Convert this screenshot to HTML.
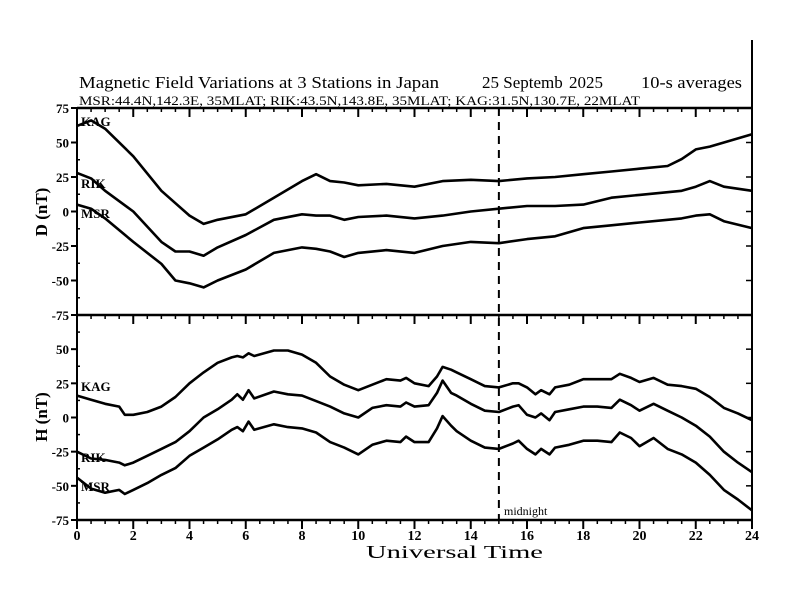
<!DOCTYPE html>
<html><head><meta charset="utf-8"><style>
body{margin:0;background:#fff}
svg{display:block}
text{font-family:"Liberation Serif",serif;fill:#000}
</style></head><body>
<svg id="chart" width="792" height="612" viewBox="0 0 792 612">
<text x="79" y="88" font-size="17" textLength="360" lengthAdjust="spacingAndGlyphs">Magnetic Field Variations at 3 Stations in Japan</text>
<text x="482" y="88" font-size="17">25 Septemb</text>
<text x="569" y="88" font-size="17">2025</text>
<text x="641" y="88" font-size="17" textLength="101" lengthAdjust="spacingAndGlyphs">10-s averages</text>
<text x="79" y="105" font-size="13" textLength="561" lengthAdjust="spacingAndGlyphs">MSR:44.4N,142.3E, 35MLAT;  RIK:43.5N,143.8E, 35MLAT;  KAG:31.5N,130.7E, 22MLAT</text>
<text transform="translate(47,212) rotate(-90)" text-anchor="middle" font-size="17" font-weight="bold">D (nT)</text>
<text transform="translate(47,417) rotate(-90)" text-anchor="middle" font-size="17" font-weight="bold">H (nT)</text>
<text x="366" y="558" font-size="18" textLength="177" lengthAdjust="spacingAndGlyphs">Universal Time</text>
<text x="504" y="515" font-size="12">midnight</text>
<g id="g"></g>
</svg>
<script>
const hoursD = [0,0.5,1,2,3,3.5,4,4.5,5,6,7,8,8.5,9,9.5,10,11,12,13,14,15,16,17,18,19,20,21,21.5,22,22.5,23,24];
const kagD = [62,66,60,40,15,6,-3,-9,-6,-2,10,22,27,22,21,19,20,18,22,23,22,24,25,27,29,31,33,38,45,47,50,56];
const rikD = [28,24,15,0,-22,-29,-29,-32,-26,-17,-6,-2,-3,-3,-6,-4,-3,-5,-3,0,2,4,4,5,10,12,14,15,18,22,18,15];
const msrD = [5,2,-5,-22,-38,-50,-52,-55,-50,-42,-30,-26,-27,-29,-33,-30,-28,-30,-25,-22,-23,-20,-18,-12,-10,-8,-6,-5,-3,-2,-7,-12];
const hoursH = [0,0.5,1,1.5,1.7,2,2.5,3,3.5,4,4.5,5,5.5,5.7,5.9,6.1,6.3,7,7.5,8,8.5,9,9.5,10,10.5,11,11.5,11.7,12,12.5,12.8,13,13.3,13.5,14,14.5,15,15.5,15.7,16,16.3,16.5,16.8,17,17.5,18,18.5,19,19.3,19.7,20,20.5,21,21.5,22,22.5,23,23.5,24];
const kagH = [16,13,10,8,2,2,4,8,15,25,33,40,44,45,44,47,45,49,49,46,40,30,24,20,24,28,27,29,25,23,30,37,35,33,28,23,22,25,25,22,17,20,17,22,24,28,28,28,32,29,26,29,24,23,21,15,7,3,-2];
const rikH = [-25,-30,-31,-33,-35,-33,-28,-23,-18,-10,0,6,13,17,13,20,14,19,17,16,12,8,3,0,7,9,8,11,8,9,18,27,18,16,10,5,4,8,9,2,0,3,-2,4,6,8,8,7,13,9,5,10,5,0,-6,-14,-25,-33,-40];
const msrH = [-44,-52,-55,-53,-56,-53,-48,-42,-37,-28,-22,-16,-9,-7,-10,-3,-9,-5,-7,-8,-11,-18,-22,-27,-20,-17,-18,-14,-18,-18,-8,1,-6,-10,-17,-22,-23,-19,-17,-23,-27,-23,-27,-22,-20,-17,-17,-18,-11,-15,-21,-15,-23,-27,-33,-42,-53,-60,-68];
const xTicks = [0,2,4,6,8,10,12,14,16,18,20,22,24];
const yTicks = [75,50,25,0,-25,-50,-75];

const NS='http://www.w3.org/2000/svg';
const g=document.getElementById('g');
const X0=77,X1=752;
const sx=h=>X0+(X1-X0)*h/24;
const panels=[{top:108,bot:315},{top:315,bot:520}];
const sy=(p,v)=>p.bot-(p.bot-p.top)*(v+75)/150;
function el(t,a){const e=document.createElementNS(NS,t);for(const k in a)e.setAttribute(k,a[k]);g.appendChild(e);return e;}

let e=el('line',{x1:X0,y1:108,x2:X0,y2:520,stroke:'#000','stroke-width':2});

e=el('line',{x1:X1,y1:40,x2:X1,y2:520,stroke:'#000','stroke-width':2});

[108,315,520].forEach((y,i)=>{
  const l=el('line',{x1:X0,y1:y,x2:X1,y2:y,stroke:'#000','stroke-width':2.5});
  
  
  for(let h=0;h<=24;h+=0.5){
    const maj=(h%2===0);
    const t=el('line',{x1:sx(h),y1:y,x2:sx(h),y2:y+(maj?9:4),stroke:'#000','stroke-width':maj?2:1.5});
    
    
  }
});
xTicks.forEach(h=>{
  const t=el('text',{x:sx(h),y:540,'text-anchor':'middle','font-size':14,'font-weight':'bold'});
  t.textContent=h;
  
  
});
panels.forEach((p,pi)=>{
  yTicks.forEach(v=>{
    const y=sy(p,v);
    if(!(pi===1&&v===75)){
      const t=el('text',{x:69,y:y+5,'text-anchor':'end','font-size':13,'font-weight':'bold'});
      t.textContent=v;
      
      
    }
    const tk=el('line',{x1:X0-6,y1:y,x2:X0,y2:y,stroke:'#000','stroke-width':2});
    
    
    const tr=el('line',{x1:X1-6,y1:y,x2:X1,y2:y,stroke:'#000','stroke-width':1.5});
    
    
  });
  for(let v=-62.5;v<75;v+=25){
    const m=el('line',{x1:X0,y1:sy(p,v),x2:X0+3,y2:sy(p,v),stroke:'#000','stroke-width':1.5});
    
    
  }
});
e=el('line',{x1:sx(15),y1:108,x2:sx(15),y2:520,stroke:'#000','stroke-width':2,'stroke-dasharray':'8,6'});


function series(p,hrs,vals,name){
  const pts=hrs.map((h,i)=>sx(h).toFixed(1)+','+sy(p,vals[i]).toFixed(1)).join(' ');
  const pl=el('polyline',{points:pts,fill:'none',stroke:'#000','stroke-width':2.6,'stroke-linejoin':'round'});
  
  
}
series(panels[0],hoursD,kagD,'kag-d-line');
series(panels[0],hoursD,rikD,'rik-d-line');
series(panels[0],hoursD,msrD,'msr-d-line');
series(panels[1],hoursH,kagH,'kag-h-line');
series(panels[1],hoursH,rikH,'rik-h-line');
series(panels[1],hoursH,msrH,'msr-h-line');

function lab(x,y,txt,name){
  const t=el('text',{x:x,y:y,'font-size':13,'font-weight':'bold'});
  t.textContent=txt;
  
  
}
lab(81,126,'KAG','kag-d-label');lab(81,188,'RIK','rik-d-label');lab(81,218,'MSR','msr-d-label');
lab(81,391,'KAG','kag-h-label');lab(81,462,'RIK','rik-h-label');lab(81,491,'MSR','msr-h-label');
</script>
</body></html>
